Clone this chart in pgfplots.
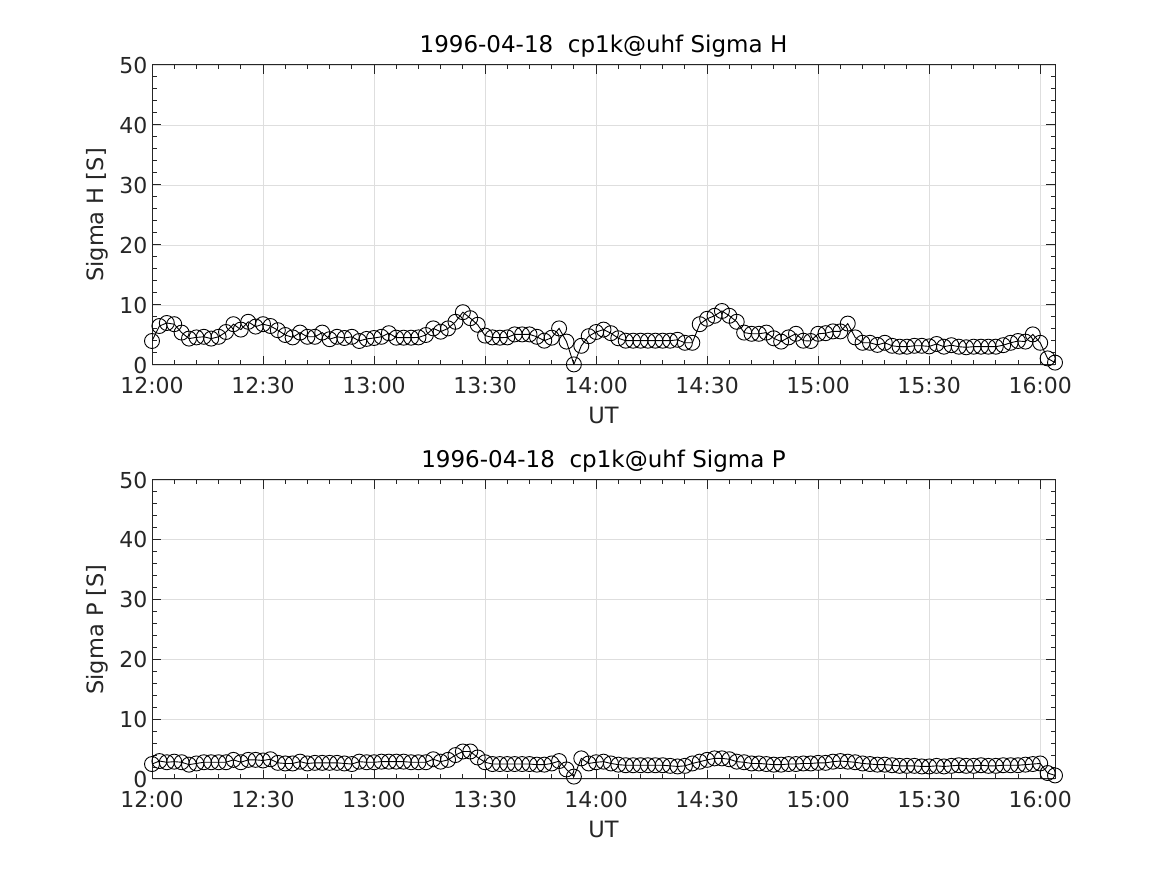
\documentclass[border=0pt]{standalone}
\usepackage{pgfplots}
\pgfplotsset{compat=1.18}
\usepackage{pgfplotstable}
\usepackage{fontspec}
\setmainfont{DejaVu Sans}
\definecolor{axgray}{gray}{0.15}
\definecolor{gridgray}{gray}{0.87}

\pgfplotstableread{
t v
0 4.0
2 6.5
4 7.0
6 6.8
8 5.4
10 4.4
12 4.6
14 4.7
16 4.4
18 4.7
20 5.5
22 6.8
24 5.9
26 7.2
28 6.4
30 6.8
32 6.5
34 5.8
36 5.0
38 4.6
40 5.4
42 4.7
44 4.7
46 5.4
48 4.3
50 4.7
52 4.5
54 4.7
56 4.0
58 4.35
60 4.5
62 4.7
64 5.3
66 4.55
68 4.55
70 4.55
72 4.6
74 5.0
76 6.1
78 5.55
80 6.1
82 7.2
84 8.8
86 7.8
88 6.7
90 4.9
92 4.6
94 4.55
96 4.6
98 5.1
100 5.1
102 5.1
104 4.7
106 4.05
108 4.55
110 6.1
112 3.9
114 0.1
116 3.2
118 4.8
120 5.5
122 5.9
124 5.3
126 4.45
128 4.05
130 4.05
132 4.05
134 4.05
136 4.05
138 4.05
140 4.05
142 4.2
144 3.7
146 3.7
148 6.8
150 7.7
152 8.2
154 9.0
156 8.2
158 7.2
160 5.4
162 5.2
164 5.2
166 5.4
168 4.45
170 3.9
172 4.6
174 5.2
176 4.05
178 4.0
180 5.2
182 5.3
184 5.6
186 5.6
188 6.9
190 4.6
192 3.7
194 3.7
196 3.35
198 3.7
200 3.2
202 3.05
204 3.05
206 3.2
208 3.2
210 3.1
212 3.5
214 3.05
216 3.3
218 3.05
220 2.95
222 3.05
224 3.05
226 3.05
228 3.05
230 3.3
232 3.7
234 4.0
236 3.9
238 5.1
240 3.7
242 1.1
244 0.4
}\sigmaH

\pgfplotstableread{
t v
0 2.5
2 3.0
4 2.8
6 2.9
8 2.8
10 2.4
12 2.6
14 2.8
16 2.8
18 2.8
20 2.8
22 3.2
24 2.8
26 3.2
28 3.2
30 3.1
32 3.3
34 2.7
36 2.6
38 2.6
40 2.9
42 2.6
44 2.7
46 2.7
48 2.7
50 2.7
52 2.6
54 2.5
56 2.9
58 2.8
60 2.8
62 2.9
64 2.9
66 2.9
68 2.9
70 2.8
72 2.8
74 2.8
76 3.3
78 2.9
80 3.2
82 4.0
84 4.6
86 4.6
88 3.6
90 2.8
92 2.5
94 2.5
96 2.5
98 2.5
100 2.5
102 2.5
104 2.4
106 2.4
108 2.6
110 3.0
112 1.6
114 0.4
116 3.45
118 2.6
120 2.8
122 2.9
124 2.6
126 2.4
128 2.3
130 2.3
132 2.3
134 2.3
136 2.3
138 2.3
140 2.2
142 2.1
144 2.2
146 2.6
148 2.9
150 3.2
152 3.45
154 3.45
156 3.3
158 2.9
160 2.8
162 2.6
164 2.6
166 2.5
168 2.4
170 2.4
172 2.5
174 2.5
176 2.6
178 2.6
180 2.7
182 2.7
184 2.9
186 3.0
188 2.9
190 2.8
192 2.6
194 2.5
196 2.4
198 2.4
200 2.3
202 2.2
204 2.2
206 2.2
208 2.1
210 2.1
212 2.2
214 2.1
216 2.2
218 2.3
220 2.2
222 2.2
224 2.3
226 2.2
228 2.2
230 2.3
232 2.3
234 2.3
236 2.4
238 2.5
240 2.6
242 1.0
244 0.6
}\sigmaP

\pgfplotsset{
  mystyle/.style={
    scale only axis,
    anchor=south west,
    width=903pt,
    xmin=0, xmax=244,
    ymin=0, ymax=50,
    xtick={0,30,...,240},
    xticklabels={12:00,12:30,13:00,13:30,14:00,14:30,15:00,15:30,16:00},
    ytick={0,10,...,50},
    minor x tick num=4,
    minor y tick num=4,
    tick pos=both,
    tick align=inside,
    major tick length=9pt,
    minor tick length=4.5pt,
    grid=major,
    major grid style={gridgray, line width=0.8pt},
    axis line style={axgray, line width=1pt},
    every tick/.style={axgray, line width=1pt},
    /pgf/number format/assume math mode=true,
    tick label style={font=\fontsize{22}{26}\selectfont, text=axgray},
    xticklabel style={anchor=base, yshift=-29pt},
    yticklabel style={anchor=east, xshift=-1pt},
    xlabel style={font=\fontsize{22.5}{26}\selectfont, text=axgray, at={(axis description cs:0.5,0)}, anchor=base, yshift=-59pt},
    ylabel style={font=\fontsize{22.5}{26}\selectfont, text=axgray, at={(axis description cs:-0.0609,0.5)}, anchor=center},
    every axis title shift=0pt,
    title style={font=\fontsize{23}{27}\selectfont, text=black, at={(axis description cs:0.5,1)}, anchor=base, yshift=12pt},
    xlabel={UT},
  },
  dataline/.style={black, line width=0.9pt, mark=o, mark size=7.5pt, mark options={line width=0.9pt, solid, fill=none}},
}

\begin{document}
\begin{tikzpicture}[x=1pt,y=1pt]
\useasboundingbox (0,0) rectangle (1167,875);
\begin{axis}[mystyle, at={(152pt,510pt)}, height=300pt,
  title={1996-04-18\ \ cp1k@uhf Sigma H}, ylabel={Sigma H [S]}]
\addplot[dataline] table[x=t, y=v] {\sigmaH};
\end{axis}
\begin{axis}[mystyle, at={(152pt,96pt)}, height=299pt,
  title={1996-04-18\ \ cp1k@uhf Sigma P}, ylabel={Sigma P [S]}]
\addplot[dataline] table[x=t, y=v] {\sigmaP};
\end{axis}
\end{tikzpicture}
\end{document}
